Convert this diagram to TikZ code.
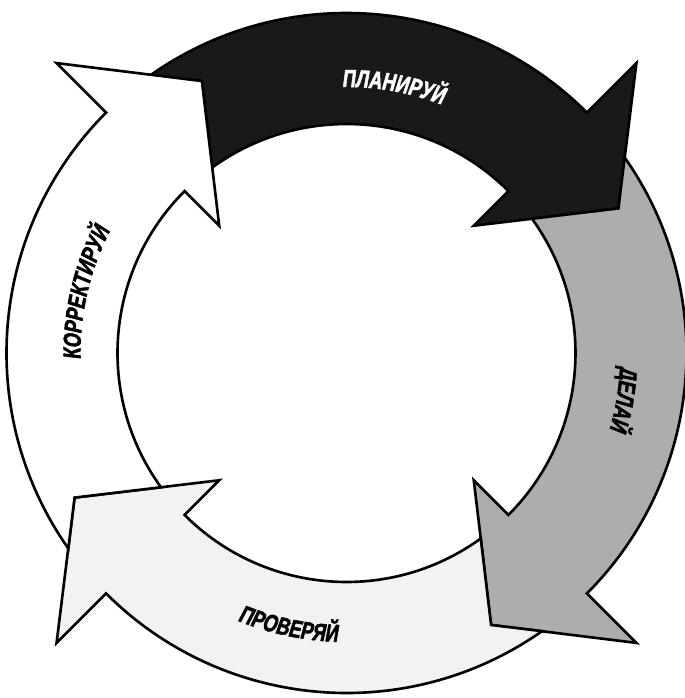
\documentclass[tikz,border=0pt]{standalone}
\usepackage{fontspec}
\newfontfamily\lblfont[FakeStretch=0.74,FakeSlant=0.12,FakeBold=2]{Liberation Sans}
\usetikzlibrary{decorations.text}

\definecolor{planfill}{gray}{0.1}
\definecolor{dofill}{gray}{0.68}
\definecolor{checkfill}{gray}{0.95}
\definecolor{actfill}{gray}{1}
\newcommand{\phasefont}{\lblfont\bfseries\fontsize{14}{16}\selectfont}

\begin{document}
\begin{tikzpicture}[
    x=0.02cm, y=0.02cm,
    band/.style={draw=black, line width=1.5pt},
    phaselabel/.style={decorate, decoration={text along path, text align=center, text={#1}}}
]

\useasboundingbox (-346.5,-345) rectangle (338.5,353);

\foreach \b/\col in {45/planfill, -45/dofill, -135/checkfill, 135/actfill} {
    \path[band, fill=\col] ({\b+80.1}:340) arc[start angle={\b+80.1}, end angle=\b, radius=340]
        -- (\b:410) -- ({\b-17}:308) -- (\b:180) -- (\b:229)
        arc[start angle=\b, end angle={\b+80.9}, radius=229]
        -- ({\b+73}:308) -- cycle;
}

\path[phaselabel={|\phasefont\color{white}|ПЛАНИРУЙ}] (110:266) arc[start angle=110, end angle=50, radius=266];
\path[phaselabel={|\phasefont|ДЕЛАЙ}] (20.5:274) arc[start angle=20.5, end angle=-39.5, radius=274];
\path[phaselabel={|\phasefont|ПРОВЕРЯЙ}] (-132:289) arc[start angle=-132, end angle=-72, radius=289];
\path[phaselabel={|\phasefont|КОРРЕКТИРУЙ}] (197:266) arc[start angle=197, end angle=137, radius=266];

\end{tikzpicture}
\end{document}
